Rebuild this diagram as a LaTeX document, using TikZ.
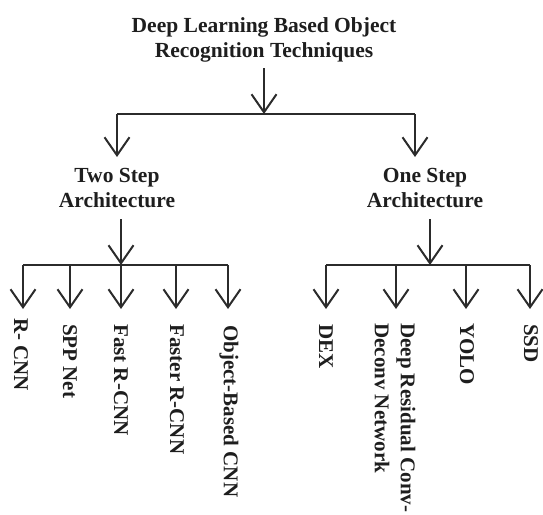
\documentclass[tikz,border=0pt]{standalone}
\usepackage{fontspec}
\setmainfont{Liberation Serif}
\usetikzlibrary{arrows.meta}
\definecolor{ink}{HTML}{2B2B2B}
\definecolor{txt}{HTML}{1E1E1E}
\begin{document}
\begin{tikzpicture}[x=1pt,y=1pt,
  conn/.style={draw=ink,line width=2pt},
  arr/.style={conn,-{Straight Barb[length=18pt,width=25pt,line width=2pt]}},
  head/.style={text=txt,font=\fontsize{21.5}{25.5}\selectfont\bfseries,align=center,inner sep=0pt},
  leaf/.style={text=txt,font=\fontsize{21}{26}\selectfont\bfseries,rotate=-90,anchor=west,inner sep=0pt,align=left}]
\useasboundingbox (0,0) rectangle (543,-514);
% headings
\node[head] (title) at (264,-40) {Deep Learning Based Object\\Recognition Techniques};
\node[head] (two) at (117,-188) {Two Step\\Architecture};
\node[head] (one) at (425,-188) {One Step\\Architecture};
% top junction
\coordinate (tA) at (264,-68);
\coordinate (j0) at (264,-114);
\coordinate (j0l) at (117,-114);
\coordinate (j0r) at (415,-114);
\coordinate (twoIn) at (117,-157);
\coordinate (oneIn) at (415,-157);
\draw[arr] (tA) -- (j0);
\draw[conn] (j0l) -- (j0r);
\draw[arr] (j0l) -- (twoIn);
\draw[arr] (j0r) -- (oneIn);
% leaves left
\node[leaf] (rcnn) at (21,-318) {R- CNN};
\node[leaf] (spp) at (70,-324) {SPP Net};
\node[leaf] (fast) at (121,-324) {Fast R-CNN};
\node[leaf] (faster) at (177,-324) {Faster R-CNN};
\node[leaf] (obj) at (229,-325) {Object-Based CNN};
% leaves right
\node[leaf] (dex) at (326,-324) {DEX};
\node[leaf] (drc) at (395,-323) {Deep Residual Conv-\\Deconv Network};
\node[leaf] (yolo) at (467,-323) {YOLO};
\node[leaf] (ssd) at (531,-324) {SSD};
% left subtree
\coordinate (lA) at (121,-219);
\coordinate (lJ) at (121,-265);
\coordinate (lB1) at (23,-265);
\coordinate (lB5) at (228,-265);
\draw[arr] (lA) -- (lJ);
\draw[conn] (lB1) -- (lB5);
\foreach \n/\x in {rcnn/23,spp/70,fast/121,faster/176,obj/228}{
  \draw[arr] (\x,-265) -- (\x,-309);
}
% right subtree
\coordinate (rA) at (430,-219);
\coordinate (rJ) at (430,-265);
\coordinate (rB1) at (326,-265);
\coordinate (rB4) at (530,-265);
\draw[arr] (rA) -- (rJ);
\draw[conn] (rB1) -- (rB4);
\foreach \n/\x in {dex/326,drc/396,yolo/466,ssd/530}{
  \draw[arr] (\x,-265) -- (\x,-309);
}
\end{tikzpicture}
\end{document}
